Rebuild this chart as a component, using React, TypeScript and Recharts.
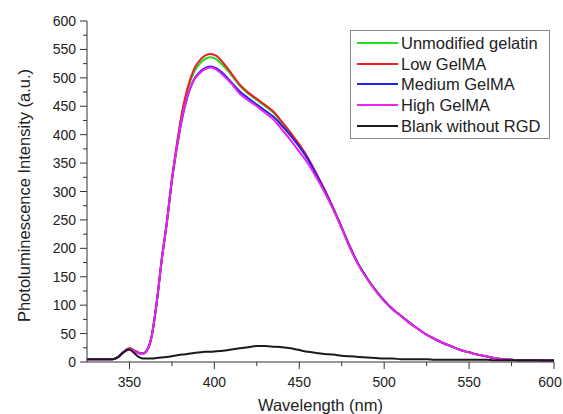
import { LineChart, Line, XAxis, YAxis, Legend, Label } from 'recharts';

// wavelength samples (nm)
const wavelengths = [
  325, 330, 335, 340, 343, 346, 350, 353, 356, 358, 360, 363, 366, 369, 372, 375, 378, 381, 384, 388, 392, 395, 398, 401, 405,
  410, 415, 420, 425, 430, 435, 440, 445, 450, 455,
  460, 465, 470, 475, 480, 485, 490, 495, 500, 505,
  510, 515, 520, 525, 530, 535, 540, 545, 550, 555,
  560, 565, 570, 575, 580, 585, 590, 595, 600,
];

const unmodifiedGelatin = [
  5, 5, 5, 5, 8, 16, 24, 20, 16, 15, 19, 44, 104, 180, 246, 321, 383, 437, 476, 510, 527, 534, 536, 533, 522,
  505, 486, 472, 461, 450, 438, 420, 401, 381, 358,
  330, 301, 270, 236, 201, 171, 147, 126, 108, 93,
  81, 69, 58, 48, 40, 33, 27, 21, 17, 13,
  10, 7, 5, 4, 3, 3, 3, 2, 2,
];

const lowGelMA = [
  5, 5, 5, 5, 8, 16, 24, 20, 16, 15, 19, 44, 104, 181, 247, 322, 385, 440, 480, 515, 533, 540, 542, 539, 527,
  508, 488, 474, 463, 452, 440, 422, 403, 383, 360,
  332, 303, 271, 237, 202, 171, 147, 126, 108, 93,
  81, 69, 58, 48, 40, 33, 27, 21, 17, 13,
  10, 7, 5, 4, 3, 3, 3, 2, 2,
];

const mediumGelMA = [
  5, 5, 5, 5, 8, 16, 23, 19, 15, 15, 19, 44, 103, 179, 244, 319, 378, 428, 465, 497, 512, 518, 520, 517, 508,
  492, 476, 464, 453, 442, 431, 415, 398, 379, 357,
  330, 301, 270, 236, 201, 171, 147, 126, 108, 93,
  81, 69, 58, 48, 40, 33, 27, 21, 17, 13,
  10, 7, 5, 4, 3, 3, 3, 2, 2,
];

const highGelMA = [
  5, 5, 5, 5, 8, 16, 23, 19, 15, 15, 19, 44, 103, 179, 244, 320, 379, 431, 467, 496, 510, 516, 518, 515, 505,
  490, 472, 460, 450, 438, 426, 408, 390, 370, 350,
  325, 298, 268, 235, 200, 170, 146, 125, 107, 92,
  81, 68, 58, 48, 40, 33, 27, 21, 17, 13,
  10, 7, 5, 4, 3, 3, 3, 2, 2,
];

const blankWithoutRGD = [
  5, 5, 5, 5, 8, 16, 22, 15, 8, 6, 6, 6, 7, 8, 9, 10, 12, 13, 14, 16, 17, 18, 18, 19, 20,
  22, 24, 26, 28, 28, 27, 26, 24, 21, 18,
  16, 14, 13, 11, 10, 9, 8, 7, 6, 6,
  5, 5, 5, 5, 4, 4, 4, 4, 4, 4,
  4, 3, 3, 3, 3, 3, 3, 3, 3,
];

const seriesNames = ['Unmodified gelatin', 'Low GelMA', 'Medium GelMA', 'High GelMA', 'Blank without RGD'];

const xTicks = [350, 375, 400, 425, 450, 475, 500, 525, 550, 575, 600];
const yTicks = Array.from({ length: 25 }, (_, i) => i * 25);

const data = wavelengths.map((wl, i) => ({
  wl,
  unmodified: unmodifiedGelatin[i],
  low: lowGelMA[i],
  medium: mediumGelMA[i],
  high: highGelMA[i],
  blank: blankWithoutRGD[i],
}));

const AXIS = '#333';
const TEXT = '#222';

const YTick = ({ x, y, payload }: any) => {
  const major = payload.value % 50 === 0;
  return (
    <g>
      <line x1={x} x2={x - (major ? 7 : 4)} y1={y} y2={y} stroke={AXIS} />
      {major && (
        <text x={x - 11} y={y} dy={5} textAnchor="end" fontSize={14} fill={TEXT}>
          {payload.value}
        </text>
      )}
    </g>
  );
};

const XTick = ({ x, y, payload }: any) => {
  const major = payload.value % 50 === 0;
  // last label sits on the page edge, nudge it in a bit
  const tx = payload.value === 600 ? x - 4 : x;
  return (
    <g>
      <line x1={x} x2={x} y1={y} y2={y + (major ? 7 : 4)} stroke={AXIS} />
      {major && (
        <text x={tx} y={y + 25} textAnchor="middle" fontSize={14} fill={TEXT}>
          {payload.value}
        </text>
      )}
    </g>
  );
};

const LegendBox = ({ payload }: any) => {
  const items = [...(payload || [])].sort(
    (a: any, b: any) => seriesNames.indexOf(a.value) - seriesNames.indexOf(b.value)
  );
  return (
    <div style={{ border: '1px solid #888', background: '#fff', width: 198, padding: '2px 0 2px 0' }}>
      {items.map((entry: any) => (
        <div key={entry.value} style={{ display: 'flex', alignItems: 'center', height: 20.6 }}>
          <svg width={50} height={10}>
            <line x1={6} x2={47} y1={5} y2={5} stroke={entry.color} strokeWidth={2} />
          </svg>
          <span style={{ fontSize: 16.5, color: TEXT, lineHeight: '20px' }}>{entry.value}</span>
        </div>
      ))}
    </div>
  );
};

export default function App() {
  return (
    <div style={{ position: 'absolute', left: 0, top: 0, fontFamily: '"Liberation Sans", Arial, sans-serif' }}>
      <LineChart width={563} height={414} data={data} margin={{ top: 21, right: 9, bottom: 0, left: 0 }}>
        <XAxis
          dataKey="wl"
          type="number"
          domain={[325, 600]}
          ticks={xTicks}
          interval={0}
          height={52}
          tickSize={0}
          tickMargin={0}
          tick={<XTick />}
          axisLine={{ stroke: AXIS }}
          allowDataOverflow
        >
          <Label
            content={({ viewBox }: any) => (
              <text
                x={viewBox.x + viewBox.width / 2}
                y={viewBox.y + 49}
                textAnchor="middle"
                fontSize={16.5}
                fill={TEXT}
              >
                Wavelength (nm)
              </text>
            )}
          />
        </XAxis>
        <YAxis
          type="number"
          domain={[0, 600]}
          ticks={yTicks}
          interval={0}
          width={87}
          tickSize={0}
          tickMargin={0}
          tick={<YTick />}
          axisLine={{ stroke: AXIS }}
        >
          <Label
            content={({ viewBox }: any) => {
              const cx = 30;
              const cy = viewBox.y + viewBox.height / 2 + 4;
              return (
                <text
                  x={cx}
                  y={cy}
                  transform={`rotate(-90 ${cx} ${cy})`}
                  textAnchor="middle"
                  fontSize={16.5}
                  fill={TEXT}
                >
                  Photoluminescence Intensity (a.u.)
                </text>
              );
            }}
          />
        </YAxis>
        <Legend
          layout="vertical"
          align="center"
          verticalAlign="middle"
          content={<LegendBox />}
          wrapperStyle={{ position: 'absolute', left: 350, top: 30, width: 200 }}
        />
        <Line type="monotone" dataKey="unmodified" name="Unmodified gelatin" stroke="#22dd22" strokeWidth={2} dot={false} isAnimationActive={false} />
        <Line type="monotone" dataKey="low" name="Low GelMA" stroke="#ee1c24" strokeWidth={2} dot={false} isAnimationActive={false} />
        <Line type="monotone" dataKey="medium" name="Medium GelMA" stroke="#2222ee" strokeWidth={2} dot={false} isAnimationActive={false} />
        <Line type="monotone" dataKey="high" name="High GelMA" stroke="#ee22ee" strokeWidth={2} dot={false} isAnimationActive={false} />
        <Line type="monotone" dataKey="blank" name="Blank without RGD" stroke="#1a1a1a" strokeWidth={2} dot={false} isAnimationActive={false} />
      </LineChart>
    </div>
  );
}
